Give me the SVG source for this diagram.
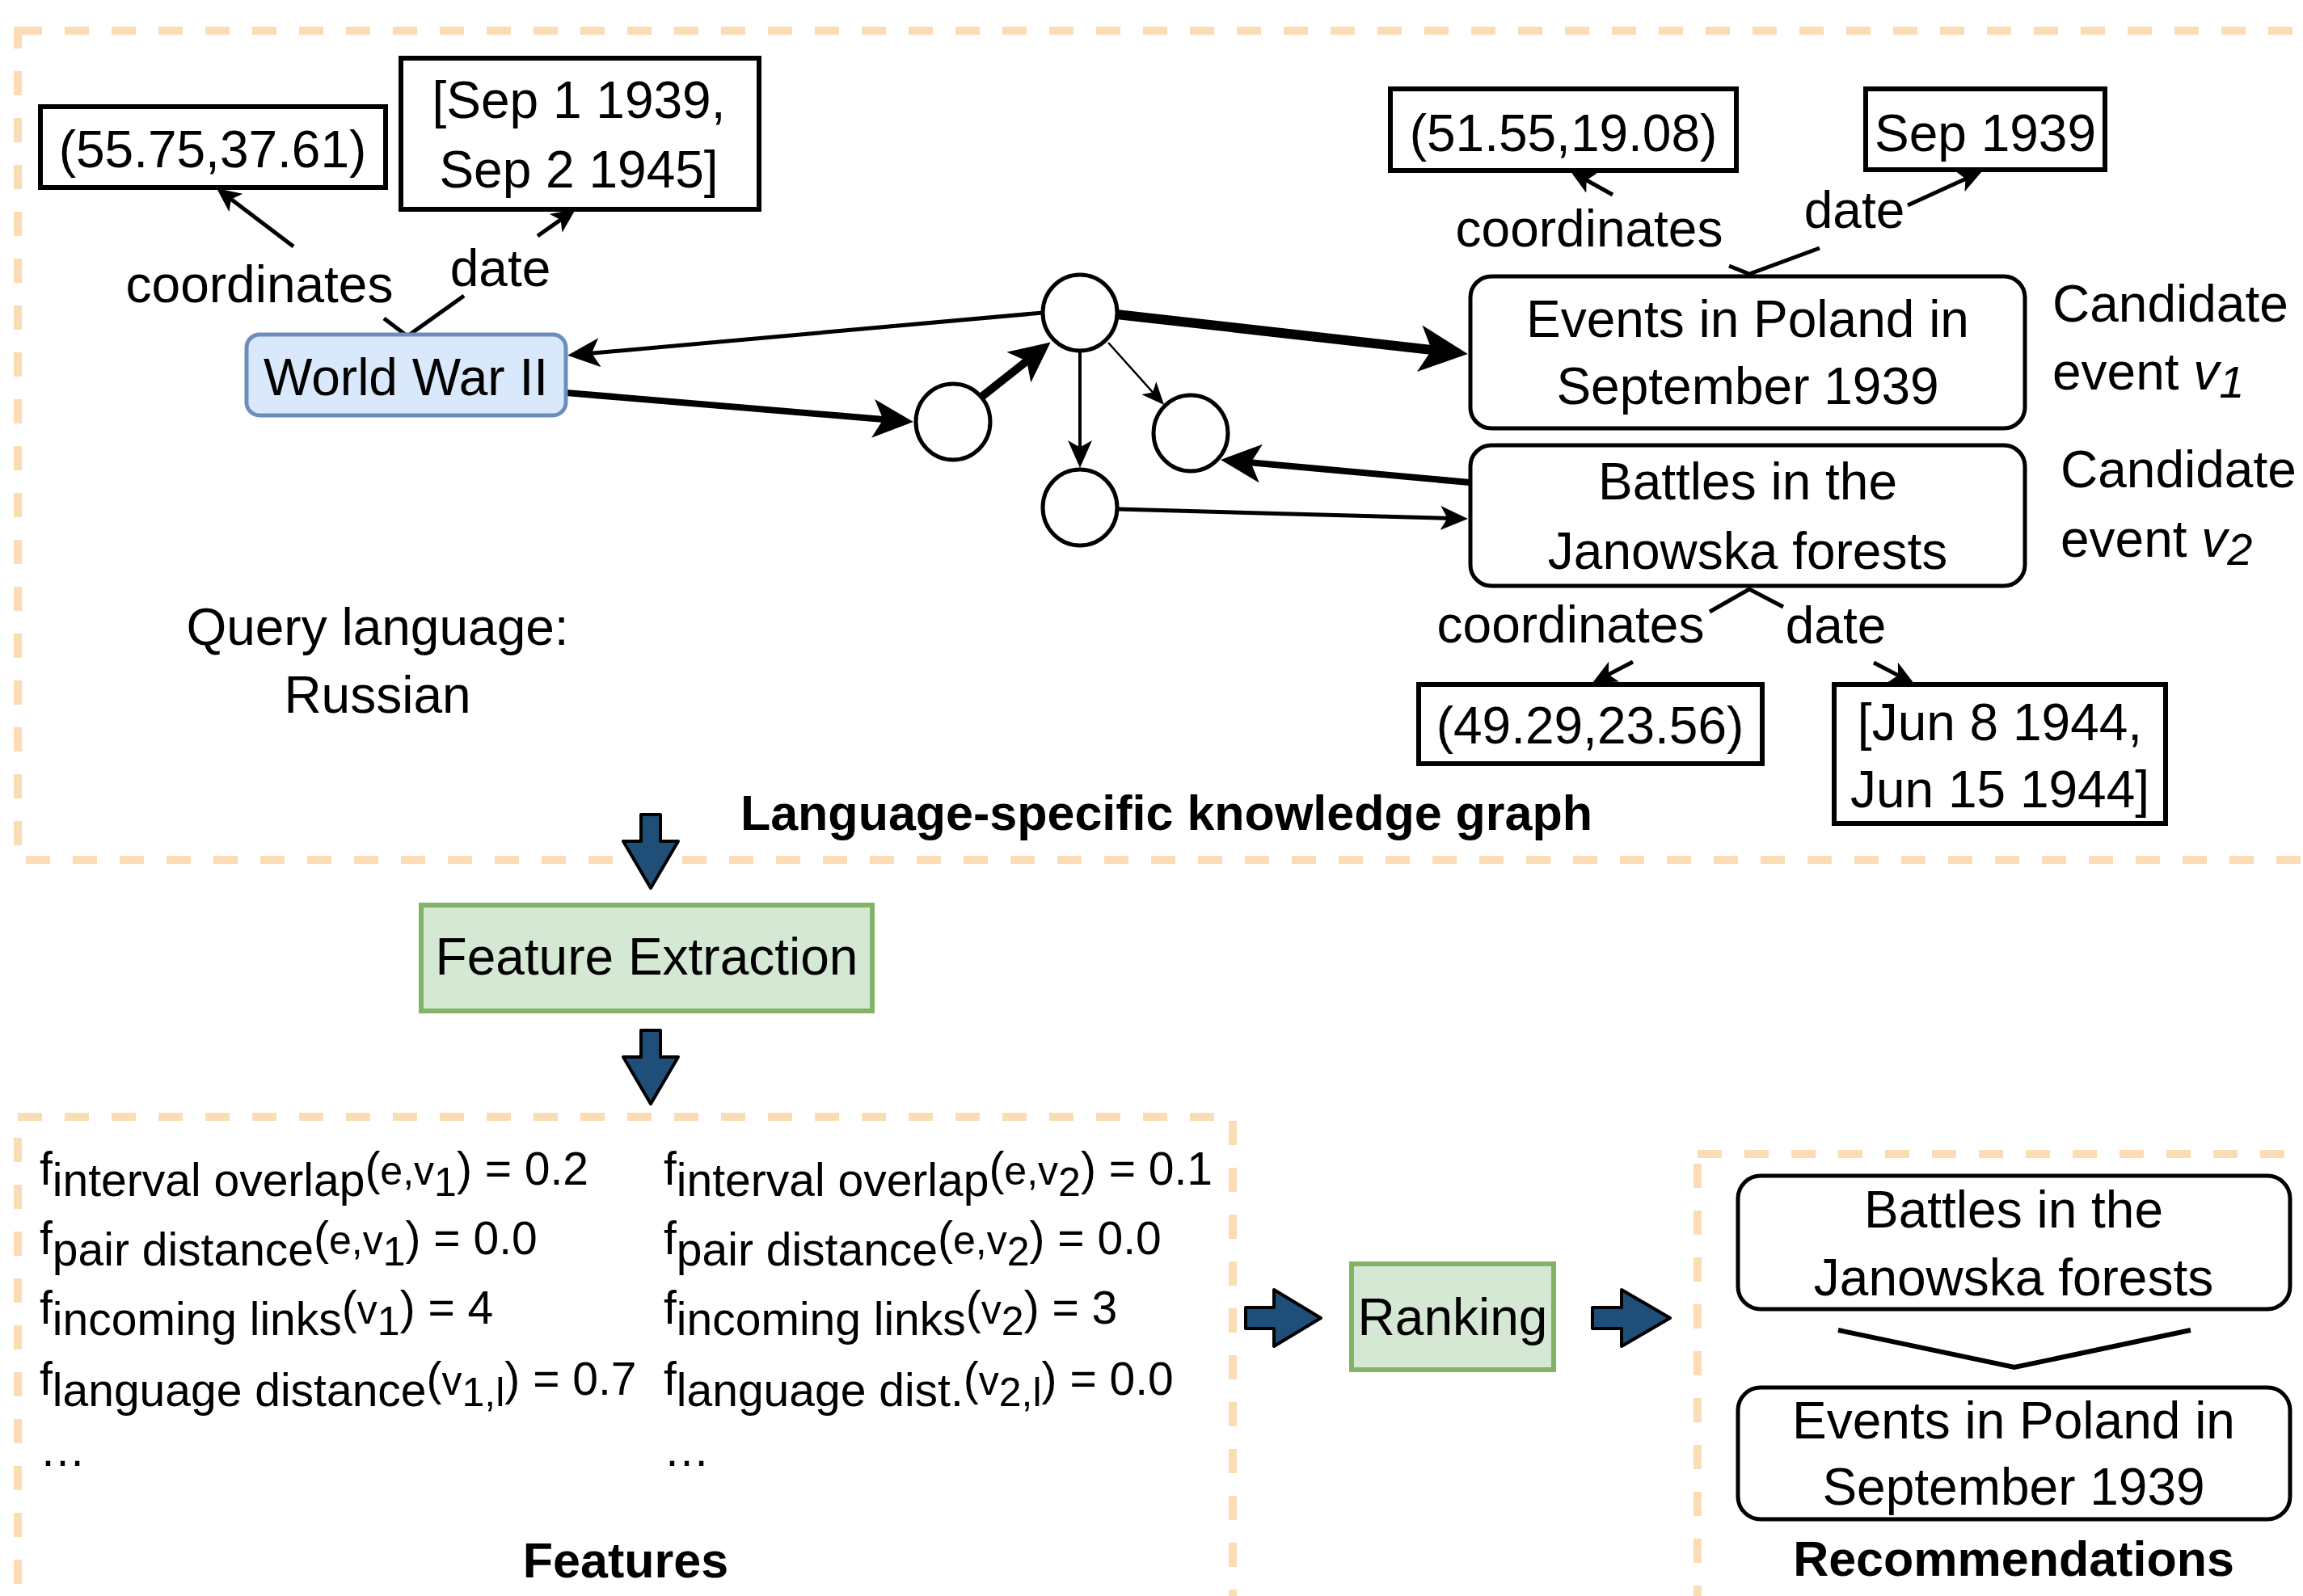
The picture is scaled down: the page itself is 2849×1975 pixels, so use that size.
<svg xmlns="http://www.w3.org/2000/svg" width="2849" height="1975" viewBox="0 0 2849 1975">
<style>
text{font-family:"Liberation Sans",Arial,sans-serif;fill:#000}
.t{font-size:64px}
.tc{font-size:64px;text-anchor:middle}
.b{font-size:61px;font-weight:bold;text-anchor:middle}
.ft{font-size:57px}
.sm{font-size:50px}
.sb{font-size:50px}
.dash{fill:none;stroke:#fbdcb5;stroke-width:10;stroke-dasharray:30 28}
.box{fill:#fff;stroke:#000;stroke-width:6}
.rbox{fill:#fff;stroke:#000;stroke-width:5}
.circ{fill:#fff;stroke:#000;stroke-width:5}
.ln{fill:none;stroke:#000;stroke-width:5}
.blk{fill:#1f4e79;stroke:#000;stroke-width:4;stroke-linejoin:round}
.green{fill:#d5e8d4;stroke:#82b366;stroke-width:6}
</style>
<defs>
<marker id="mXL" viewBox="0 0 10 10" refX="5" refY="5" markerUnits="userSpaceOnUse" markerWidth="60" markerHeight="58" orient="auto" preserveAspectRatio="none"><path d="M0,0 L10,5 L0,10 L2.5,5 Z" fill="#000"/></marker>
<marker id="mL" viewBox="0 0 10 10" refX="5" refY="5" markerUnits="userSpaceOnUse" markerWidth="50" markerHeight="48" orient="auto" preserveAspectRatio="none"><path d="M0,0 L10,5 L0,10 L2.5,5 Z" fill="#000"/></marker>
<marker id="mM" viewBox="0 0 10 10" refX="5" refY="5" markerUnits="userSpaceOnUse" markerWidth="40" markerHeight="36" orient="auto" preserveAspectRatio="none"><path d="M0,0 L10,5 L0,10 L2.5,5 Z" fill="#000"/></marker>
<marker id="mS" viewBox="0 0 10 10" refX="5" refY="5" markerUnits="userSpaceOnUse" markerWidth="34" markerHeight="30" orient="auto" preserveAspectRatio="none"><path d="M0,0 L10,5 L0,10 L2.5,5 Z" fill="#000"/></marker>
<marker id="mXS" viewBox="0 0 10 10" refX="5" refY="5" markerUnits="userSpaceOnUse" markerWidth="28" markerHeight="24" orient="auto" preserveAspectRatio="none"><path d="M0,0 L10,5 L0,10 L2.5,5 Z" fill="#000"/></marker>
<marker id="mA" viewBox="0 0 10 10" refX="5" refY="5" markerUnits="userSpaceOnUse" markerWidth="30" markerHeight="28" orient="auto" preserveAspectRatio="none"><path d="M0,0 L10,5 L0,10 L2.5,5 Z" fill="#000"/></marker>
</defs>
<rect width="2849" height="1975" fill="#fff"/>

<g id="containers">
<rect class="dash" x="22" y="38" width="2900" height="1026"/>
<rect class="dash" x="22" y="1382" width="1503" height="700"/>
<rect class="dash" x="2100" y="1428" width="800" height="700"/>
</g>

<g id="connectors">
<line class="ln" x1="1290" y1="387" x2="722" y2="438" marker-end="url(#mM)"/>
<line class="ln" x1="700" y1="486" x2="1105" y2="520" style="stroke-width:8" marker-end="url(#mL)"/>
<line class="ln" x1="1213" y1="492" x2="1280" y2="439" style="stroke-width:10" marker-end="url(#mL)"/>
<line class="ln" x1="1381" y1="389" x2="1786" y2="434.6" style="stroke-width:12" marker-end="url(#mXL)"/>
<line class="ln" x1="1336" y1="434" x2="1336" y2="562" style="stroke-width:4" marker-end="url(#mS)"/>
<line class="ln" x1="1371" y1="424" x2="1430.7" y2="490.6" style="stroke-width:2.5" marker-end="url(#mXS)"/>
<line class="ln" x1="1818" y1="597" x2="1535" y2="571.3" style="stroke-width:8" marker-end="url(#mL)"/>
<line class="ln" x1="1383" y1="630" x2="1799" y2="641.5" style="stroke-width:5" marker-end="url(#mS)"/>
<polyline class="ln" points="475,394 504,416 574,366"/>
<line class="ln" x1="363" y1="305" x2="280" y2="242" marker-end="url(#mA)"/>
<line class="ln" x1="665" y1="292" x2="699.7" y2="267.6" marker-end="url(#mA)"/>
<polyline class="ln" points="2139,329 2164,339 2251,307"/>
<line class="ln" x1="1995" y1="241" x2="1956" y2="219.3" marker-end="url(#mA)"/>
<line class="ln" x1="2360" y1="254" x2="2438.3" y2="218.2" marker-end="url(#mA)"/>
<polyline class="ln" points="2115,757 2164,729 2206,751"/>
<line class="ln" x1="2020" y1="819" x2="1983.3" y2="838.1" marker-end="url(#mA)"/>
<line class="ln" x1="2318" y1="820" x2="2354.7" y2="839.1" marker-end="url(#mA)"/>
<path class="blk" d="M793,1008 H817 V1041 H839 L805,1099 L771,1041 H793 Z"/>
<path class="blk" d="M793,1275 H817 V1308 H839 L805,1366 L771,1308 H793 Z"/>
<path class="blk" d="M1541,1618 H1576 V1596 L1634,1631 L1576,1666 V1644 H1541 Z"/>
<path class="blk" d="M1970,1618 H2006 V1596 L2066,1631 L2006,1666 V1644 H1970 Z"/>
<polyline class="ln" points="2274,1646 2492,1692 2710,1646" style="stroke-width:6"/>
</g>

<g id="wwii">
<rect x="305" y="414" width="395" height="100" rx="16" fill="#dae8fc" stroke="#6c8ebf" stroke-width="5"/>
<text class="tc" x="502" y="489">World War II</text>
</g>
<g id="wwii-coords">
<rect class="box" x="50" y="132" width="427" height="100"/>
<text class="tc" x="263" y="207">(55.75,37.61)</text>
</g>
<g id="wwii-date">
<rect class="box" x="496" y="72" width="443" height="187"/>
<text class="tc" x="716" y="146">[Sep 1 1939,</text>
<text class="tc" x="716" y="232">Sep 2 1945]</text>
</g>
<g id="labels-wwii">
<text class="tc" x="321" y="374">coordinates</text>
<text class="tc" x="619" y="354">date</text>
</g>

<g id="n1"><ellipse class="circ" cx="1336" cy="387" rx="46" ry="47"/></g>
<g id="n2"><ellipse class="circ" cx="1179" cy="522" rx="46" ry="47"/></g>
<g id="n3"><ellipse class="circ" cx="1336" cy="628" rx="46" ry="47"/></g>
<g id="n4"><ellipse class="circ" cx="1473" cy="536" rx="46" ry="47"/></g>

<g id="events">
<rect class="rbox" x="1819" y="342" width="686" height="188" rx="26"/>
<text class="tc" x="2162" y="417">Events in Poland in</text>
<text class="tc" x="2162" y="500">September 1939</text>
</g>
<g id="events-coords">
<rect class="box" x="1720" y="110" width="428" height="101"/>
<text class="tc" x="1934" y="187">(51.55,19.08)</text>
</g>
<g id="events-date">
<rect class="box" x="2308" y="110" width="296" height="100"/>
<text class="tc" x="2456" y="187">Sep 1939</text>
</g>
<g id="labels-events">
<text class="tc" x="1966" y="305">coordinates</text>
<text class="tc" x="2294" y="282">date</text>
<text class="t" x="2539" y="398">Candidate</text>
<text class="t" x="2539" y="482">event <tspan font-style="italic">v</tspan><tspan font-style="italic" font-size="56" dy="10">1</tspan></text>
</g>

<g id="battles">
<rect class="rbox" x="1819" y="551" width="686" height="174" rx="26"/>
<text class="tc" x="2162" y="618">Battles in the</text>
<text class="tc" x="2162" y="704">Janowska forests</text>
</g>
<g id="battles-coords">
<rect class="box" x="1755" y="847" width="425" height="98"/>
<text class="tc" x="1967" y="920">(49.29,23.56)</text>
</g>
<g id="battles-date">
<rect class="box" x="2269" y="847" width="410" height="172"/>
<text class="tc" x="2474" y="916">[Jun 8 1944,</text>
<text class="tc" x="2474" y="999">Jun 15 1944]</text>
</g>
<g id="labels-battles">
<text class="tc" x="1943" y="795">coordinates</text>
<text class="tc" x="2271" y="796">date</text>
<text class="t" x="2549" y="603">Candidate</text>
<text class="t" x="2549" y="689">event <tspan font-style="italic">v</tspan><tspan font-style="italic" font-size="56" dy="10">2</tspan></text>
</g>

<g id="query">
<text class="tc" x="467" y="798">Query language:</text>
<text class="tc" x="467" y="882">Russian</text>
</g>
<g id="kg-title"><text class="b" x="1443" y="1027">Language-specific knowledge graph</text></g>

<g id="feature-extraction">
<rect class="green" x="521" y="1120" width="558" height="131"/>
<text class="tc" x="800" y="1206">Feature Extraction</text>
</g>

<g id="features">
<text class="ft" x="49" y="1466">f<tspan dy="14">interval overlap</tspan><tspan dy="-14">(</tspan><tspan class="sm">e,v</tspan><tspan class="sb" dy="14">1</tspan><tspan dy="-14">)</tspan> = 0.2</text>
<text class="ft" x="49" y="1552">f<tspan dy="14">pair distance</tspan><tspan dy="-14">(</tspan><tspan class="sm">e,v</tspan><tspan class="sb" dy="14">1</tspan><tspan dy="-14">)</tspan> = 0.0</text>
<text class="ft" x="49" y="1638">f<tspan dy="14">incoming links</tspan><tspan dy="-14">(</tspan><tspan class="sm">v</tspan><tspan class="sb" dy="14">1</tspan><tspan dy="-14">)</tspan> = 4</text>
<text class="ft" x="49" y="1726">f<tspan dy="14">language distance</tspan><tspan dy="-14">(</tspan><tspan class="sm">v</tspan><tspan class="sb" dy="14">1</tspan><tspan class="sb">,l</tspan><tspan dy="-14">)</tspan> = 0.7</text>
<text class="ft" x="49" y="1814">…</text>
<text class="ft" x="821" y="1466">f<tspan dy="14">interval overlap</tspan><tspan dy="-14">(</tspan><tspan class="sm">e,v</tspan><tspan class="sb" dy="14">2</tspan><tspan dy="-14">)</tspan> = 0.1</text>
<text class="ft" x="821" y="1552">f<tspan dy="14">pair distance</tspan><tspan dy="-14">(</tspan><tspan class="sm">e,v</tspan><tspan class="sb" dy="14">2</tspan><tspan dy="-14">)</tspan> = 0.0</text>
<text class="ft" x="821" y="1638">f<tspan dy="14">incoming links</tspan><tspan dy="-14">(</tspan><tspan class="sm">v</tspan><tspan class="sb" dy="14">2</tspan><tspan dy="-14">)</tspan> = 3</text>
<text class="ft" x="821" y="1726">f<tspan dy="14">language dist.</tspan><tspan dy="-14">(</tspan><tspan class="sm">v</tspan><tspan class="sb" dy="14">2</tspan><tspan class="sb">,l</tspan><tspan dy="-14">)</tspan> = 0.0</text>
<text class="ft" x="821" y="1814">…</text>
<text class="b" x="774" y="1952">Features</text>
</g>

<g id="ranking">
<rect class="green" x="1672" y="1564" width="250" height="131"/>
<text class="tc" x="1797" y="1652">Ranking</text>
</g>

<g id="recommendations">
<rect class="rbox" x="2150" y="1455" width="683" height="165" rx="28"/>
<text class="tc" x="2491" y="1519">Battles in the</text>
<text class="tc" x="2491" y="1603">Janowska forests</text>
<rect class="rbox" x="2150" y="1717" width="683" height="163" rx="28"/>
<text class="tc" x="2491" y="1780">Events in Poland in</text>
<text class="tc" x="2491" y="1862">September 1939</text>
<text class="b" x="2491" y="1950">Recommendations</text>
</g>
</svg>
